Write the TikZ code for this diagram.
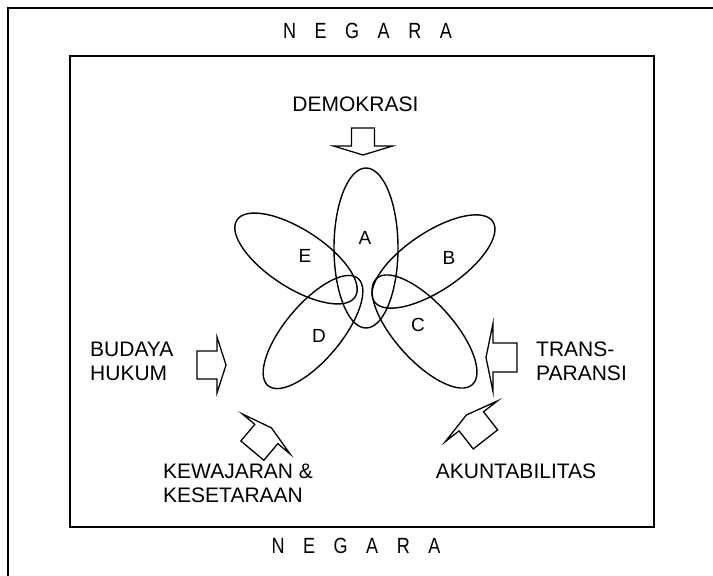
\documentclass[tikz,border=0pt]{standalone}
\usepackage{fontspec}
\setmainfont{Liberation Sans}
\newfontfamily\narrowfont[FakeStretch=0.82]{Liberation Sans}
\usetikzlibrary{shapes.geometric}

\newcommand{\blockarr}[7]{% x, y, angle, stem length, stem half width, head half width, head depth
  \begin{scope}[shift={(#1,#2)}, rotate=#3]
    \draw[arrowline] (-#4,-#5) -- (0,-#5) -- (0,-#6) -- (#7,0) -- (0,#6) -- (0,#5) -- (-#4,#5) -- cycle;
  \end{scope}}
\newcommand{\negaratext}{N\hspace{18.5pt}E\hspace{18.5pt}G\hspace{18.5pt}A\hspace{18.5pt}R\hspace{18.5pt}A}

\begin{document}
\begin{tikzpicture}[x=1pt, y=-1pt,
  boxline/.style={line width=1.5pt},
  petal/.style={draw, ellipse, line width=1.4pt, inner sep=0pt},
  arrowline/.style={line width=1.3pt, line join=miter},
  lbl/.style={inner sep=0pt, font=\fontsize{21}{24}\selectfont, align=left},
  petallbl/.style={inner sep=0pt, font=\fontsize{19}{21}\selectfont},
  negstyle/.style={inner sep=0pt, font=\narrowfont\fontsize{22}{24}\selectfont}]
  \useasboundingbox (0,0) rectangle (713,576);
  \clip (0,0) rectangle (713,576);
  % outer box (runs past the right and bottom edge)
  \draw[boxline] (8,8) rectangle (740,610);
  % inner box
  \draw[boxline] (70,56) rectangle (654,527);
  \node[negstyle] (negtop) at (367.5,31) {\negaratext};
  \node[negstyle] (negbot) at (356,546) {\negaratext};

  % petals
  \node[petal, minimum width=64pt, minimum height=160pt] (pA) at (366,248) {};
  \node[petal, minimum width=141pt, minimum height=58pt, rotate=-33] (pE) at (296,258.5) {};
  \node[petal, minimum width=143pt, minimum height=58pt, rotate=34] (pB) at (433.5,261.5) {};
  \node[petal, minimum width=143pt, minimum height=58pt, rotate=-48] (pC) at (424.5,331.5) {};
  \node[petal, minimum width=140pt, minimum height=56pt, rotate=50] (pD) at (313,332) {};
  \node[petallbl] (lA) at (365,238) {A};
  \node[petallbl] (lE) at (305,256) {E};
  \node[petallbl] (lB) at (449,258) {B};
  \node[petallbl] (lC) at (418,325) {C};
  \node[petallbl] (lD) at (319,336) {D};

  % labels
  \node[lbl] (demo) at (355.5,104.5) {DEMOKRASI};
  \node[lbl, anchor=west] (budaya) at (90,361.3) {BUDAYA\\HUKUM};
  \node[lbl, anchor=west] (trans) at (536,361.3) {TRANS-\\PARANSI};
  \node[lbl, anchor=west] (kewa) at (163,483.3) {KEWAJARAN \&\\KESETARAAN};
  \node[lbl] (akun) at (516,471.7) {AKUNTABILITAS};

  % block arrows
  \blockarr{363}{146}{-90}{18}{11.5}{29.5}{9}
  \blockarr{217}{365}{0}{20}{14}{28}{9}
  \blockarr{493}{357.5}{180}{24}{14.5}{34}{7}
  \blockarr{266.3}{434}{50}{21.7}{15}{31}{8}
  \blockarr{471.3}{421.3}{128}{23}{15.5}{33}{8}
\end{tikzpicture}
\end{document}
